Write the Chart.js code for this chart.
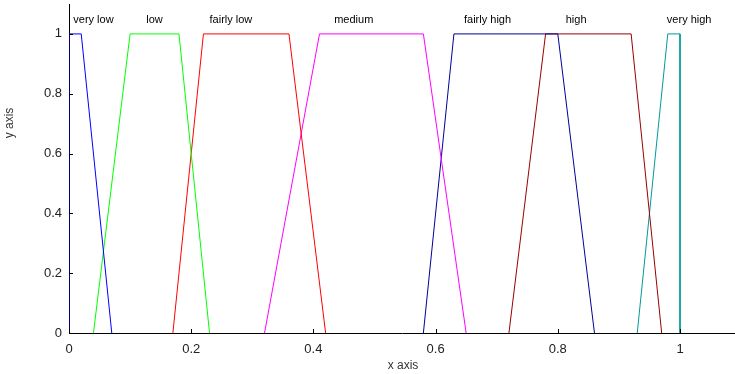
<!DOCTYPE html>
<html>
<head>
<meta charset="utf-8">
<script src="https://cdn.jsdelivr.net/npm/chart.js@4"></script>
<style>
  html, body { margin: 0; padding: 0; background: #fff; }
  #wrap { width: 735px; height: 374px; }
</style>
</head>
<body>
<div id="wrap"><canvas id="fuzzyChart" width="735" height="374"></canvas></div>
<script>
// 隶属函数（梯形）数据
const setNames = ['very low', 'low', 'fairly low', 'medium', 'fairly high', 'high', 'very high'];
const veryLowX = [0, 0, 0.02, 0.07];
const veryLowY = [0, 1, 1, 0];
const lowX = [0.04, 0.10, 0.18, 0.23];
const lowY = [0, 1, 1, 0];
const fairlyLowX = [0.17, 0.22, 0.36, 0.42];
const fairlyLowY = [0, 1, 1, 0];
const mediumX = [0.32, 0.41, 0.58, 0.65];
const mediumY = [0, 1, 1, 0];
const fairlyHighX = [0.58, 0.63, 0.80, 0.86];
const fairlyHighY = [0, 1, 1, 0];
const highX = [0.72, 0.78, 0.92, 0.97];
const highY = [0, 1, 1, 0];
const veryHighX = [0.93, 0.98, 1.0, 1.0];
const veryHighY = [0, 1, 1, 0];

// 刻度
const xTicks = [0, 0.2, 0.4, 0.6, 0.8, 1];
const yTicks = [0, 0.2, 0.4, 0.6, 0.8, 1];

// 名称标注位置（数据坐标）
const labelX = [0.04, 0.14, 0.265, 0.466, 0.685, 0.83, 1.015];
const labelY = 1.045;

const setXs = [veryLowX, lowX, fairlyLowX, mediumX, fairlyHighX, highX, veryHighX];
const setYs = [veryLowY, lowY, fairlyLowY, mediumY, fairlyHighY, highY, veryHighY];
const colors = ['#0000ff', '#00ff00', '#ff0000', '#ff00ff', '#000099', '#990000', '#009999'];

const datasets = setNames.map((name, i) => ({
    label: name,
    data: setXs[i].map((x, j) => ({ x: x, y: setYs[i][j] })),
    borderColor: colors[i],
    borderWidth: 1,
    pointRadius: 0,
    tension: 0,
    fill: false
}));

// 画内向刻度、标注和坐标轴标题
const decorPlugin = {
    id: 'decor',
    afterDraw(chart) {
        const ctx = chart.ctx;
        const xs = chart.scales.x;
        const ys = chart.scales.y;
        const area = chart.chartArea;
        ctx.save();
        ctx.strokeStyle = '#000';
        ctx.lineWidth = 1;
        ctx.beginPath();
        xTicks.forEach(v => {
            const px = Math.round(xs.getPixelForValue(v)) + 0.5;
            ctx.moveTo(px, area.bottom);
            ctx.lineTo(px, area.bottom - 4);
        });
        yTicks.forEach(v => {
            const py = Math.round(ys.getPixelForValue(v)) + 0.5;
            ctx.moveTo(area.left, py);
            ctx.lineTo(area.left + 4, py);
        });
        ctx.stroke();

        ctx.fillStyle = '#000';
        ctx.font = '11px "Liberation Sans", Arial, sans-serif';
        ctx.textAlign = 'center';
        ctx.textBaseline = 'middle';
        setNames.forEach((name, i) => {
            ctx.fillText(name, xs.getPixelForValue(labelX[i]), ys.getPixelForValue(labelY));
        });

        ctx.fillStyle = '#333';
        ctx.font = '12px "Liberation Sans", Arial, sans-serif';
        ctx.fillText('x axis', 403, 366);
        ctx.translate(10, 123);
        ctx.rotate(-Math.PI / 2);
        ctx.fillText('y axis', 0, 0);
        ctx.restore();
    }
};

const tickFont = { family: '"Liberation Sans", Arial, sans-serif', size: 13 };

new Chart(document.getElementById('fuzzyChart'), {
    type: 'line',
    data: { datasets: datasets },
    options: {
        responsive: false,
        animation: false,
        layout: { padding: { top: 4, right: 0, left: 0, bottom: 0 } },
        plugins: {
            legend: { display: false },
            tooltip: { enabled: false }
        },
        scales: {
            x: {
                type: 'linear',
                min: 0,
                max: 1.09,
                afterBuildTicks: scale => { scale.ticks = xTicks.map(v => ({ value: v })); },
                afterFit: scale => {
                    scale.height = 41;
                    scale.paddingLeft = 0;
                    scale.paddingRight = 0;
                },
                grid: { display: false, drawTicks: false },
                border: { display: true, color: '#000', width: 1 },
                ticks: {
                    font: tickFont,
                    color: '#222',
                    padding: 9,
                    maxRotation: 0,
                    callback: v => String(Math.round(v * 10) / 10)
                }
            },
            y: {
                type: 'linear',
                min: 0,
                max: 1.1,
                afterBuildTicks: scale => { scale.ticks = yTicks.map(v => ({ value: v })); },
                afterFit: scale => {
                    scale.width = 69;
                    scale.paddingTop = 0;
                    scale.paddingBottom = 0;
                },
                grid: { display: false, drawTicks: false },
                border: { display: true, color: '#000', width: 1 },
                ticks: {
                    font: tickFont,
                    color: '#222',
                    padding: 7,
                    callback: v => String(Math.round(v * 10) / 10)
                }
            }
        }
    },
    plugins: [decorPlugin]
});
</script>
</body>
</html>
